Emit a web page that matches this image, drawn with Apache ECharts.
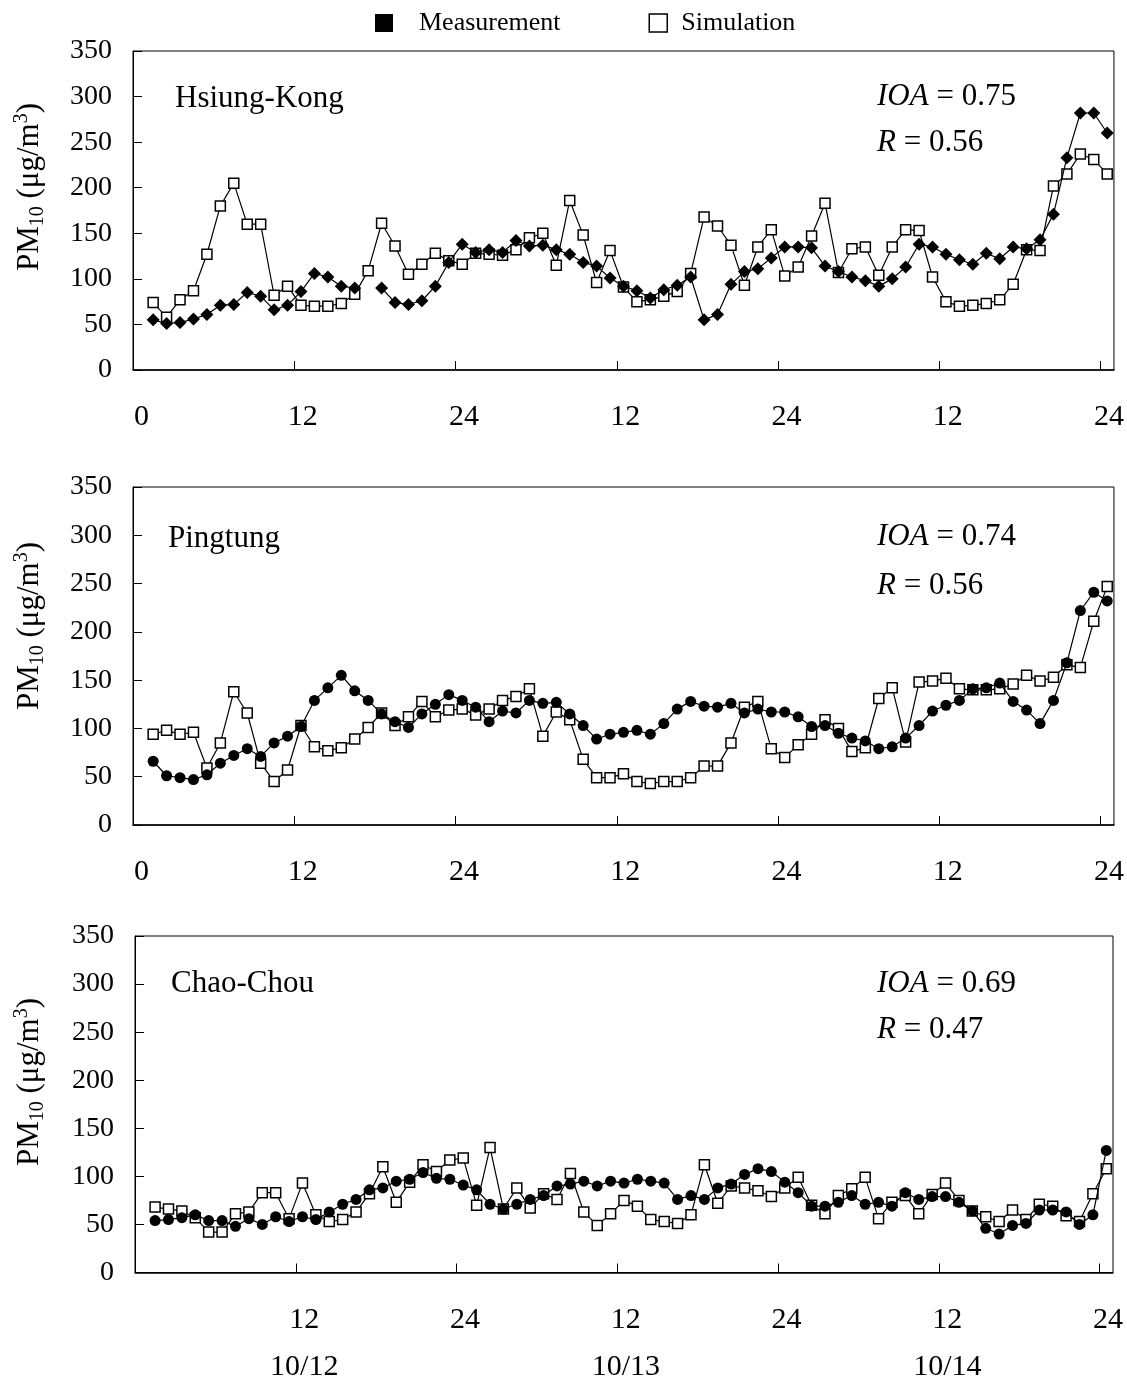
<!DOCTYPE html>
<html><head><meta charset="utf-8">
<script src="https://cdn.jsdelivr.net/npm/echarts@6/dist/echarts.min.js"></script>
<style>html,body{margin:0;padding:0;background:#fff}#c{width:1127px;height:1382px}</style>
</head><body><div id="c"></div>
<script>
// hour index of each sample (1..72, 3 days of hourly data)
const hours = Array.from({length: 72}, (_, i) => i + 1);

// Hsiung-Kong
const hkMeas = [55,51,52,56,61,71,72,85,81,66,71,86,106,102,92,90,null,90,74,72,76,92,118,138,
  129,132,129,142,136,137,132,127,118,114,101,92,87,79,88,93,102,55,61,94,108,111,123,135,
  135,134,114,108,102,98,92,100,113,138,135,127,121,116,128,122,135,133,143,171,233,282,282,260];
const hkSim = [74,58,77,87,127,180,205,160,160,82,92,71,70,70,73,83,109,161,136,105,116,128,120,116,
  128,127,126,132,145,150,115,186,148,96,131,91,75,77,81,86,106,168,158,137,93,135,154,103,
  113,147,183,107,133,135,104,135,154,153,102,75,70,71,73,77,94,132,131,202,215,237,231,215];

// Pingtung
const ptMeas = [66,51,49,47,52,64,72,79,71,85,92,102,129,142,155,139,129,115,107,101,115,125,135,129,
  122,107,118,116,129,126,127,115,103,89,94,96,98,94,105,120,128,123,122,126,116,120,117,117,
  112,102,103,95,90,87,79,81,90,103,118,124,129,141,142,147,128,119,105,129,168,222,241,232];
const ptSim = [94,98,94,96,59,85,138,116,64,45,57,103,81,77,80,89,101,116,103,112,128,112,119,120,
  114,120,129,133,141,92,117,109,68,49,49,53,45,43,45,45,49,61,61,85,122,128,79,70,
  83,94,109,100,76,80,131,142,86,148,149,152,141,140,140,141,146,155,149,153,166,163,211,247];

// Chao-Chou
const ccMeas = [54,55,57,60,54,54,48,56,50,58,53,58,55,63,71,76,86,88,95,97,104,98,97,91,
  86,71,66,71,76,80,90,92,95,90,95,93,97,95,93,76,80,76,88,92,102,108,105,94,
  83,69,69,73,80,71,73,69,83,76,79,79,73,64,46,40,49,51,65,65,63,50,60,127];
const ccSim = [68,66,64,57,42,42,61,63,83,83,56,93,60,53,55,63,82,110,73,94,112,105,117,119,
  70,130,66,88,67,82,76,103,63,49,61,75,69,55,53,51,60,112,72,90,88,85,79,88,
  99,70,61,80,87,99,56,73,80,61,81,93,75,64,58,53,65,55,71,69,59,53,82,108];

const stations = ['Hsiung-Kong', 'Pingtung', 'Chao-Chou'];
const ioaValues = ['0.75', '0.74', '0.69'];
const rValues = ['0.56', '0.56', '0.47'];
const measSymbols = ['diamond', 'circle', 'circle'];
const measSets = [hkMeas, ptMeas, ccMeas];
const simSets = [hkSim, ptSim, ccSim];

const xTickValues = [0, 12, 24, 36, 48, 60, 72];
const xTickText = {0: '0', 12: '12', 24: '24', 36: '12', 48: '24', 60: '12', 72: '24'};
const dateLabels = {12: '10/12', 36: '10/13', 60: '10/14'};
const yTicks = {min: 0, max: 350, interval: 50};

const F = "'Liberation Serif','Times New Roman',serif";

const grids = [
  {left: 133, top: 51, width: 982, height: 319},
  {left: 133, top: 487, width: 982, height: 338},
  {left: 135, top: 936, width: 978, height: 337}
];

// each hour is drawn at the centre of its hourly band
const toPoints = arr => hours.map((h, i) => [h + 0.5, arr[i] == null ? '-' : arr[i]]);

const xAxes = grids.map((g, i) => ({
  type: 'value', gridIndex: i, min: 0, max: 73, interval: 12,
  axisLine: {show: true, onZero: false, lineStyle: {color: '#000', width: 1.5}},
  axisTick: {show: true, inside: true, length: 9, customValues: xTickValues, lineStyle: {color: '#000', width: 1}},
  splitLine: {show: false},
  axisLabel: i < 2 ? {
    customValues: xTickValues, margin: 32, color: '#000', fontSize: 30, fontFamily: F,
    padding: [0, 0, 0, 17],
    formatter: v => xTickText[v]
  } : {
    customValues: xTickValues.slice(1), margin: 24, color: '#000', fontFamily: F,
    padding: [0, 0, 0, 17],
    formatter: v => dateLabels[v] ? '{n|' + xTickText[v] + '}\n{n|' + dateLabels[v] + '}' : '{n|' + xTickText[v] + '}',
    rich: {n: {fontSize: 30, fontFamily: F, color: '#000', lineHeight: 47}}
  }
}));

const yAxes = grids.map((g, i) => ({
  type: 'value', gridIndex: i, min: yTicks.min, max: yTicks.max, interval: yTicks.interval,
  axisLine: {show: true, lineStyle: {color: '#000', width: 1}},
  axisTick: {show: true, inside: true, length: 9, lineStyle: {color: '#000', width: 1}},
  splitLine: {show: false},
  axisLabel: {margin: 21, color: '#000', fontSize: 28, fontFamily: F}
}));

const series = [];
grids.forEach((g, i) => {
  series.push({
    type: 'line', name: 'Simulation', xAxisIndex: i, yAxisIndex: i,
    data: toPoints(simSets[i]),
    symbol: 'rect', symbolSize: 10, showAllSymbol: true,
    itemStyle: {color: '#fff', borderColor: '#000', borderWidth: 1.5},
    lineStyle: {color: '#000', width: 1.2},
    z: 2, silent: true
  });
  series.push({
    type: 'line', name: 'Measurement', xAxisIndex: i, yAxisIndex: i,
    data: toPoints(measSets[i]),
    symbol: measSymbols[i], symbolSize: measSymbols[i] === 'diamond' ? 13 : 11, showAllSymbol: true,
    itemStyle: {color: '#000', borderColor: '#000', borderWidth: 0},
    lineStyle: {color: '#000', width: 1.2},
    z: 3, silent: true
  });
});

const nameY = [99, 539, 984];
const nameX = [175, 168, 171];
const ioaY = [97, 537, 984];
const rY = [143, 586, 1030];
const titleY = [187, 626, 1082];

const graphics = [];
grids.forEach((g, i) => {
  graphics.push({
    type: 'text', x: nameX[i], y: nameY[i], silent: true,
    style: {text: stations[i], fontSize: 31, fontFamily: F, fill: '#000', verticalAlign: 'middle'}
  });
  graphics.push({
    type: 'text', x: 877, y: ioaY[i], silent: true,
    style: {
      text: '{i|IOA}{n| = ' + ioaValues[i] + '}', verticalAlign: 'middle', fill: '#000',
      rich: {i: {fontSize: 31, fontFamily: F, fontStyle: 'italic', fill: '#000'},
             n: {fontSize: 31, fontFamily: F, fill: '#000'}}
    }
  });
  graphics.push({
    type: 'text', x: 877, y: rY[i], silent: true,
    style: {
      text: '{i|R}{n| = ' + rValues[i] + '}', verticalAlign: 'middle', fill: '#000',
      rich: {i: {fontSize: 31, fontFamily: F, fontStyle: 'italic', fill: '#000'},
             n: {fontSize: 31, fontFamily: F, fill: '#000'}}
    }
  });
  graphics.push({
    type: 'text', x: 30, y: titleY[i], rotation: Math.PI / 2, silent: true,
    style: {
      text: '{a|PM}{s|10}{a| (μg/m}{p|3}{a|)}', align: 'center', verticalAlign: 'middle', fill: '#000',
      rich: {
        a: {fontSize: 31, fontFamily: F, lineHeight: 36, fill: '#000'},
        s: {fontSize: 20, fontFamily: F, lineHeight: 20, verticalAlign: 'bottom', fill: '#000'},
        p: {fontSize: 20, fontFamily: F, lineHeight: 20, verticalAlign: 'top', fill: '#000'}
      }
    }
  });
});

const chart = echarts.init(document.getElementById('c'), null, {renderer: 'canvas'});
chart.setOption({
  animation: false,
  backgroundColor: '#fff',
  grid: grids.map(g => Object.assign({show: true, borderColor: '#000', borderWidth: 1, backgroundColor: 'transparent'}, g)),
  legend: {
    left: 375, top: 10, padding: 0, itemWidth: 18, itemHeight: 18, itemGap: 88,
    selectedMode: false,
    textStyle: {fontSize: 26, fontFamily: F, color: '#000'},
    data: [
      {name: 'Measurement', icon: 'rect', itemStyle: {color: '#000', borderWidth: 0}, textStyle: {padding: [0, 0, 0, 21]}},
      {name: 'Simulation', icon: 'rect', itemStyle: {color: '#fff', borderColor: '#000', borderWidth: 1.5}, textStyle: {padding: [0, 0, 0, 9]}}
    ]
  },
  xAxis: xAxes,
  yAxis: yAxes,
  series: series,
  graphic: graphics
});
</script>
</body></html>
